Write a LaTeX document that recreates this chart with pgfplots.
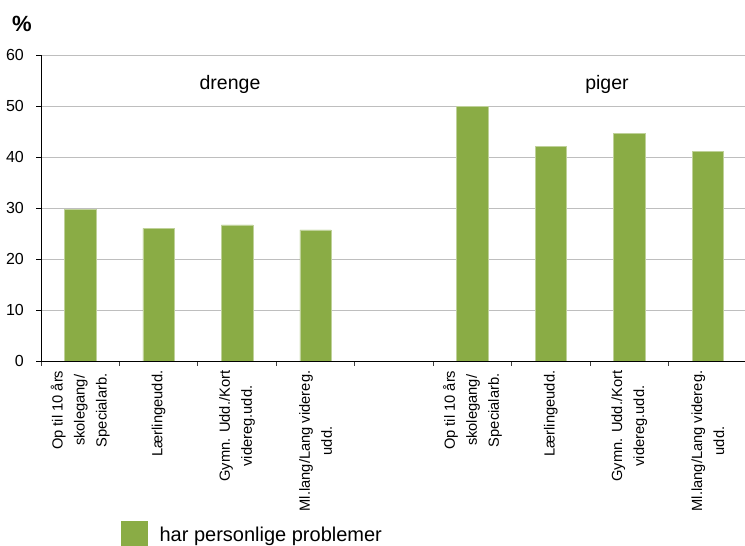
\documentclass[border=0pt]{standalone}
\usepackage{fontspec}
\setmainfont{Liberation Sans}
\usepackage{pgfplots}
\pgfplotsset{compat=1.18}
\definecolor{barg}{RGB}{138,172,69}
\definecolor{gridc}{RGB}{190,190,190}
\begin{document}
\begin{tikzpicture}[x=1pt,y=1pt]
\useasboundingbox (0,0) rectangle (745,546);
\begin{axis}[
  at={(41pt,185pt)}, anchor=south west,
  scale only axis, width=706pt, height=306pt,
  xmin=-0.5, xmax=8.5, ymin=0, ymax=60,
  ybar, bar width=0.4,
  axis x line=bottom, axis y line=left,
  axis line style={-, black, line width=0.8pt},
  xtick pos=bottom, ytick pos=left,
  ytick={0,10,...,60},
  ymajorgrids, grid style={gridc, line width=0.8pt},
  tick align=outside,
  major tick length=5pt, minor tick length=5pt,
  xtick={0,1,2,3,5,6,7,8},
  minor xtick={-0.5,0.5,...,8.5},
  major x tick style={draw=none},
  minor x tick style={black!75, line width=0.8pt},
  major y tick style={black, line width=0.8pt},
  xticklabels={{Op til 10 års\\skolegang/\\Specialarb.},{Lærlingeudd.},{Gymn. Udd./Kort\\videreg.udd.},{Ml.lang/Lang videreg.\\udd.},{Op til 10 års\\skolegang/\\Specialarb.},{Lærlingeudd.},{Gymn. Udd./Kort\\videreg.udd.},{Ml.lang/Lang videreg.\\udd.}},
  x tick label style={yshift=-4.5pt, rotate=90, anchor=east, align=center, inner sep=0pt, font=\fontsize{14.7}{22}\selectfont},
  y tick label style={anchor=east, inner sep=0pt, xshift=-12pt, font=\fontsize{16}{19}\selectfont},
  /pgf/number format/assume math mode=true,
  legend style={draw=none, fill=none, inner sep=0pt, outer sep=0pt,
    at={(axis description cs:0.1129,-0.5905)}, anchor=north west,
    font=\fontsize{20}{24}\selectfont, nodes={inner sep=0pt}},
]
\addplot[fill=barg, draw=barg!55!white, line width=0.6pt,
  legend image code/.code={\path (0pt,0pt) (38.3pt,0pt); \fill[barg, overlay] (0pt,-5.5pt) rectangle (26.5pt,21pt);}]
  coordinates {(0,29.8) (1,26.0) (2,26.7) (3,25.7) (5,49.9) (6,42.0) (7,44.7) (8,41.1)};
\addlegendentry{\raisebox{0pt}[0pt][0pt]{har personlige problemer}}
\end{axis}
\node[anchor=base, inner sep=0pt, font=\fontsize{19.5}{23}\selectfont] at (230,456.7) {drenge};
\node[anchor=base, inner sep=0pt, font=\fontsize{19.5}{23}\selectfont] at (607,456.7) {piger};
\node[anchor=base west, inner sep=0pt, font=\bfseries\fontsize{22}{26}\selectfont] at (12,514.5) {\%};
\end{tikzpicture}
\end{document}
